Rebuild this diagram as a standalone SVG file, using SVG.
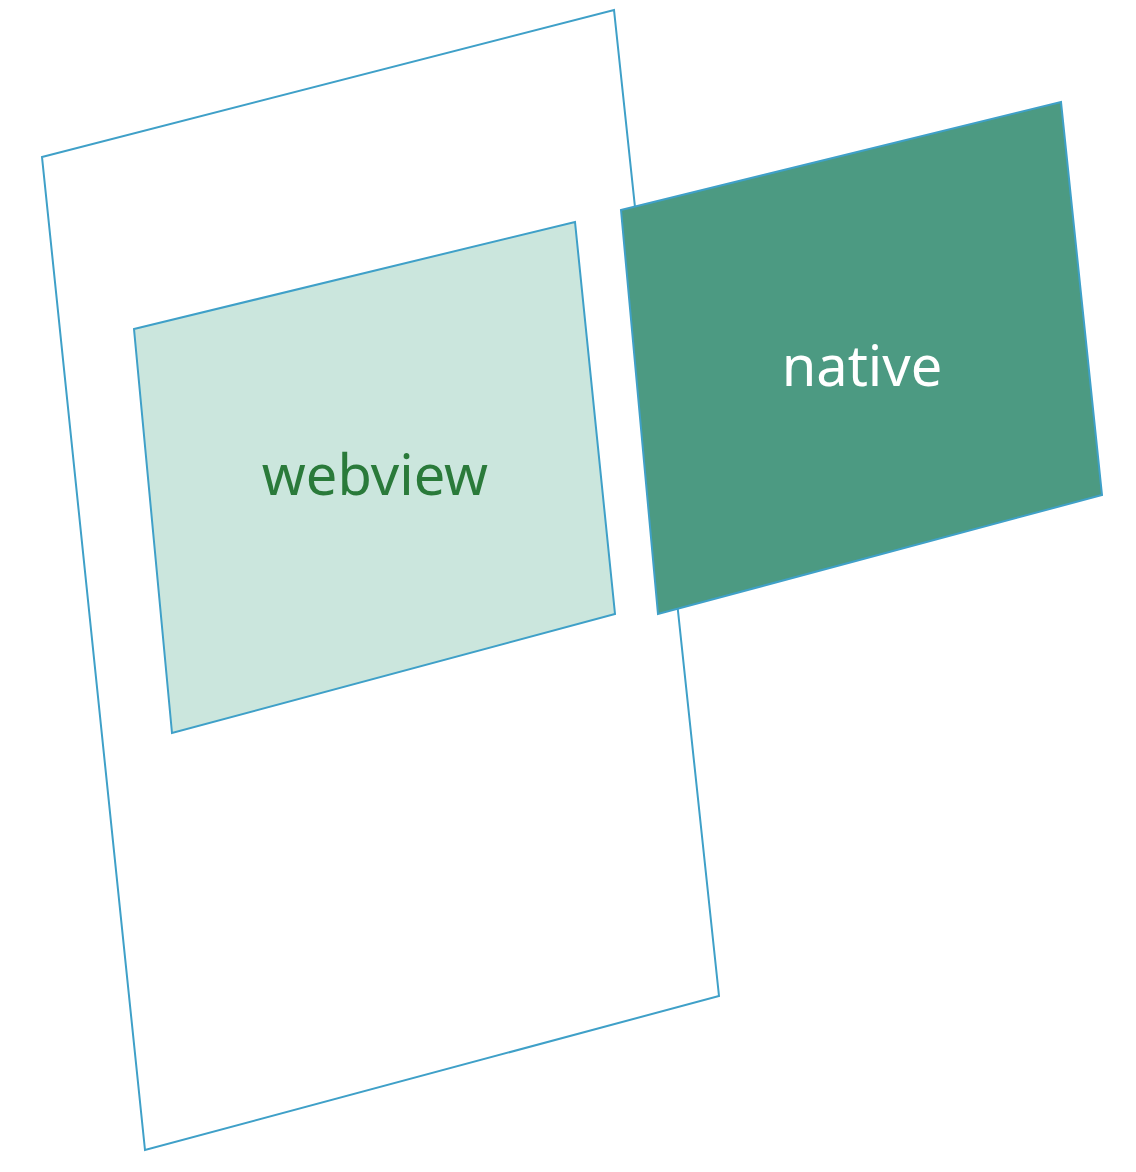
<svg xmlns="http://www.w3.org/2000/svg" width="1136" height="1172" viewBox="0 0 1136 1172">
  <style>
    .edge { stroke: #3fa0c8; stroke-width: 2; stroke-linejoin: miter; }
    .label { font-family: "Noto Sans", "Open Sans", sans-serif; font-size: 56px; text-anchor: middle; }
  </style>
  <rect width="1136" height="1172" fill="#ffffff"/>
  <g id="phone">
    <polygon class="edge" fill="#ffffff" points="42,157 614,10 719,996 145,1150"/>
  </g>
  <g id="webview">
    <polygon class="edge" fill="#cbe6dd" points="134,329 575,222 615,614 172,733"/>
    <text class="label" x="375" y="495" fill="#2a7a3a">webview</text>
  </g>
  <g id="native">
    <polygon class="edge" fill="#4c9a82" points="621,210 1061,102 1102,495 658,614"/>
    <text class="label" x="862" y="386" fill="#ffffff">native</text>
  </g>
  <g id="connectors"/>
</svg>
